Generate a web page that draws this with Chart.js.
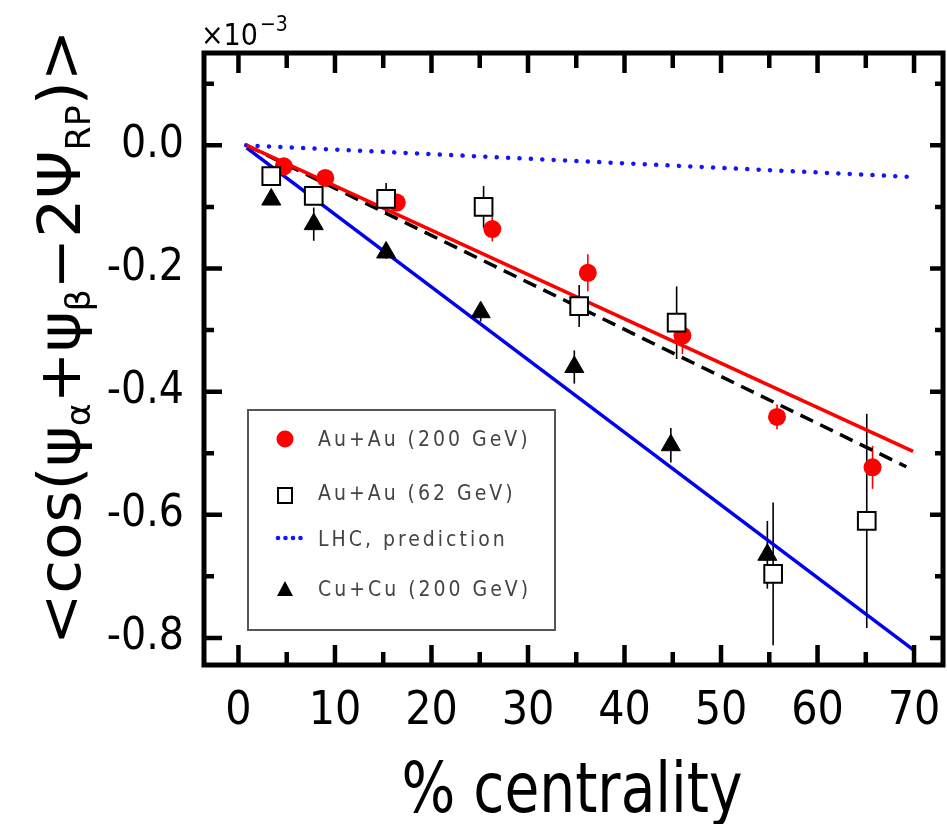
<!DOCTYPE html>
<html><head><meta charset="utf-8">
<script src="https://cdn.jsdelivr.net/npm/chart.js@4.4.1/dist/chart.umd.min.js"></script>
<style>html,body{margin:0;padding:0;background:#fff;}#wrap{width:947px;height:824px;position:relative;}</style>
</head><body><div id="wrap"><canvas id="c" width="947" height="824"></canvas></div>
<script>
const FONT = "'DejaVu Sans Condensed', 'DejaVu Sans', sans-serif";

// ---- data (y in units of 1e-3) ----
const auau200X   = [4.7, 9.0, 16.4, 26.3, 36.2, 46.0, 55.8, 65.7];
const auau200Y   = [-0.034, -0.053, -0.093, -0.136, -0.207, -0.309, -0.441, -0.523];
const auau200Err = [0.006, 0.006, 0.008, 0.020, 0.030, 0.030, 0.020, 0.035];

const auau62X   = [3.4, 7.8, 15.3, 25.4, 35.3, 45.4, 55.4, 65.1];
const auau62Y   = [-0.050, -0.082, -0.087, -0.100, -0.261, -0.288, -0.696, -0.610];
const auau62Err = [0.006, 0.010, 0.026, 0.034, 0.034, 0.059, 0.116, 0.174];

const cucuX   = [3.4, 7.8, 15.3, 25.1, 34.8, 44.8, 54.8];
const cucuY   = [-0.088, -0.128, -0.174, -0.271, -0.360, -0.487, -0.665];
const cucuErr = [0.008, 0.027, 0.010, 0.015, 0.027, 0.028, 0.055];

const fitAuAu200X = [0.85, 69.9], fitAuAu200Y = [0, -0.497];
const fitAuAu62X  = [0.85, 69.2], fitAuAu62Y  = [0, -0.522];
const fitCuCuX    = [0.85, 69.9], fitCuCuY    = [-0.004, -0.819];
const lhcX        = [0.8, 69.4],  lhcY        = [0, -0.051];

const legendLabels = ['Au+Au (200 GeV)', 'Au+Au (62 GeV)', 'LHC, prediction', 'Cu+Cu (200 GeV)'];
const xTitle = '% centrality';
const yTitleParts = [['<cos(\u03C8',0],['\u03B1',1],['+\u03C8',0],['\u03B2',1],['\u22122\u03A8',0],['RP',1],[')>',0]];
const exponentParts = ['\u00D710', '\u22123'];

const pts = (xs, ys) => xs.map((x, i) => ({x, y: ys[i]}));

const errorBars = {
  id: 'errorBars',
  beforeDatasetsDraw(chart) {
    const {ctx, scales: {x, y}} = chart;
    const sets = [[auau200X, auau200Y, auau200Err, '#f00'], [auau62X, auau62Y, auau62Err, '#000'], [cucuX, cucuY, cucuErr, '#000']];
    ctx.save();
    ctx.lineWidth = 1.6;
    sets.forEach(([xs, ys, es, col]) => {
      ctx.strokeStyle = col;
      xs.forEach((xv, i) => {
        const px = x.getPixelForValue(xv);
        ctx.beginPath();
        ctx.moveTo(px, y.getPixelForValue(ys[i] + es[i]));
        ctx.lineTo(px, y.getPixelForValue(ys[i] - es[i]));
        ctx.stroke();
      });
    });
    ctx.restore();
  }
};

const frameTicks = {
  id: 'frameTicks',
  afterDatasetsDraw(chart) {
    const {ctx, chartArea: a, scales: {x, y}} = chart;
    ctx.save();
    ctx.strokeStyle = '#000';
    ctx.lineWidth = 4.5;
    x.ticks.forEach(t => {
      const px = x.getPixelForValue(t.value);
      const major = t.label !== '';
      ctx.beginPath();
      ctx.moveTo(px, a.bottom); ctx.lineTo(px, a.bottom - (major ? 20 : 13));
      ctx.moveTo(px, a.top); ctx.lineTo(px, a.top + (major ? 20 : 15));
      ctx.stroke();
    });
    y.ticks.forEach(t => {
      const py = y.getPixelForValue(t.value);
      const major = t.label !== '';
      ctx.beginPath();
      ctx.moveTo(a.left, py); ctx.lineTo(a.left + (major ? 18 : 10), py);
      ctx.moveTo(a.right, py); ctx.lineTo(a.right - (major ? 13 : 8), py);
      ctx.stroke();
    });
    ctx.lineWidth = 5;
    ctx.strokeRect(a.left, a.top, a.right - a.left, a.bottom - a.top);
    ctx.restore();
  }
};

const decorations = {
  id: 'decorations',
  afterDraw(chart) {
    const ctx = chart.ctx;
    // legend box
    ctx.save();
    ctx.fillStyle = '#fff';
    ctx.fillRect(248, 410, 307, 220);
    ctx.strokeStyle = '#555'; ctx.lineWidth = 2;
    ctx.strokeRect(248, 410, 307, 220);
    ctx.fillStyle = '#f00';
    ctx.beginPath(); ctx.arc(285, 439, 8.5, 0, Math.PI * 2); ctx.fill();
    ctx.strokeStyle = '#000'; ctx.lineWidth = 2;
    ctx.strokeRect(278, 488, 14, 15);
    ctx.fillStyle = '#1414ff';
    [278, 285.5, 293, 300.5].forEach(px => { ctx.beginPath(); ctx.arc(px, 538, 2.3, 0, Math.PI * 2); ctx.fill(); });
    ctx.fillStyle = '#000';
    ctx.beginPath(); ctx.moveTo(285, 581); ctx.lineTo(293, 596); ctx.lineTo(277, 596); ctx.closePath(); ctx.fill();
    ctx.font = '21px ' + FONT;
    ctx.fillStyle = '#444';
    ctx.textBaseline = 'middle';
    ctx.textAlign = 'left';
    if ('letterSpacing' in ctx) ctx.letterSpacing = '3px';
    const ys = [441, 495, 541, 591];
    [0, 1, 2, 3].forEach((k, i) => ctx.fillText(legendLabels[k], 318, ys[i]));
    ctx.restore();

    // x title
    ctx.save();
    ctx.font = '70px ' + FONT;
    ctx.fillStyle = '#000';
    ctx.textBaseline = 'alphabetic';
    const w = ctx.measureText(xTitle).width;
    ctx.translate(572, 812);
    ctx.scale(341 / w, 1);
    ctx.textAlign = 'center';
    ctx.fillText(xTitle, 0, 0);
    ctx.restore();

    // y title (rotated, with subscripts)
    ctx.save();
    ctx.fillStyle = '#000';
    ctx.textBaseline = 'alphabetic';
    ctx.textAlign = 'left';
    const mainF = '58px ' + FONT, subF = '33px ' + FONT;
    let total = 0;
    yTitleParts.forEach(([t, s]) => { ctx.font = s ? subF : mainF; total += ctx.measureText(t).width; });
    ctx.translate(80, 645);
    ctx.rotate(-Math.PI / 2);
    ctx.scale(615 / total, 1);
    let u = 0;
    yTitleParts.forEach(([t, s]) => {
      ctx.font = s ? subF : mainF;
      ctx.fillText(t, u, s ? 10 : 0);
      u += ctx.measureText(t).width;
    });
    ctx.restore();

    // exponent note
    ctx.save();
    ctx.fillStyle = '#000';
    ctx.textBaseline = 'alphabetic';
    ctx.textAlign = 'left';
    ctx.font = '30px ' + FONT;
    ctx.fillText(exponentParts[0], 201, 45);
    const ew = ctx.measureText(exponentParts[0]).width;
    ctx.font = '21px ' + FONT;
    ctx.fillText(exponentParts[1], 201 + ew + 2, 31);
    ctx.restore();
  }
};

new Chart(document.getElementById('c'), {
  type: 'scatter',
  data: {
    datasets: [
      {label: legendLabels[1], data: pts(auau62X, auau62Y), pointStyle: 'rect', pointRadius: 12.5,
       backgroundColor: '#fff', borderColor: '#000', borderWidth: 2, showLine: false, order: 1},
      {label: legendLabels[0], data: pts(auau200X, auau200Y), pointStyle: 'circle', pointRadius: 9,
       backgroundColor: '#f00', borderColor: '#f00', borderWidth: 0, showLine: false, order: 2},
      {label: legendLabels[3], data: pts(cucuX, cucuY), pointStyle: 'triangle', pointRadius: 11,
       backgroundColor: '#000', borderColor: '#000', borderWidth: 1, showLine: false, order: 3},
      {label: 'Au+Au 200 fit', data: pts(fitAuAu200X, fitAuAu200Y), showLine: true, pointRadius: 0,
       borderColor: '#f00', borderWidth: 3.5, order: 10},
      {label: 'Au+Au 62 fit', data: pts(fitAuAu62X, fitAuAu62Y), showLine: true, pointRadius: 0,
       borderColor: '#000', borderWidth: 3.5, borderDash: [14, 8], order: 11},
      {label: 'Cu+Cu fit', data: pts(fitCuCuX, fitCuCuY), showLine: true, pointRadius: 0,
       borderColor: '#0000ee', borderWidth: 3.5, order: 12},
      {label: legendLabels[2], data: pts(lhcX, lhcY), showLine: true, pointRadius: 0,
       borderColor: '#1414ff', borderWidth: 4.5, borderDash: [0.1, 11.3], borderCapStyle: 'round', order: 13}
    ]
  },
  options: {
    responsive: false, animation: false, devicePixelRatio: 1,
    layout: {autoPadding: false, padding: {left: 0, right: 4, top: 53, bottom: 0}},
    plugins: {legend: {display: false}, tooltip: {enabled: false}},
    scales: {
      x: {
        type: 'linear', min: -3.57, max: 73.0,
        ticks: {stepSize: 5, includeBounds: false, autoSkip: false, maxRotation: 0, minRotation: 0, padding: 0,
          color: '#000', font: {family: FONT, size: 46, lineHeight: 2.05},
          callback: v => (Math.round(v) % 10 === 0 ? String(Math.round(v)) : '')},
        grid: {display: false, drawTicks: false}, border: {display: false},
        afterFit: s => { s.height = 159; }
      },
      y: {
        type: 'linear', min: -0.844, max: 0.150,
        ticks: {stepSize: 0.1, includeBounds: false, autoSkip: false, padding: 20,
          color: '#000', font: {family: FONT, size: 44},
          callback: v => { const k = Math.round(v * 10); return k % 2 === 0 ? (k / 10).toFixed(1) : ''; }},
        grid: {display: false, drawTicks: false}, border: {display: false},
        afterFit: s => { s.width = 204; }
      }
    }
  },
  plugins: [errorBars, frameTicks, decorations]
});
</script>
</body></html>
